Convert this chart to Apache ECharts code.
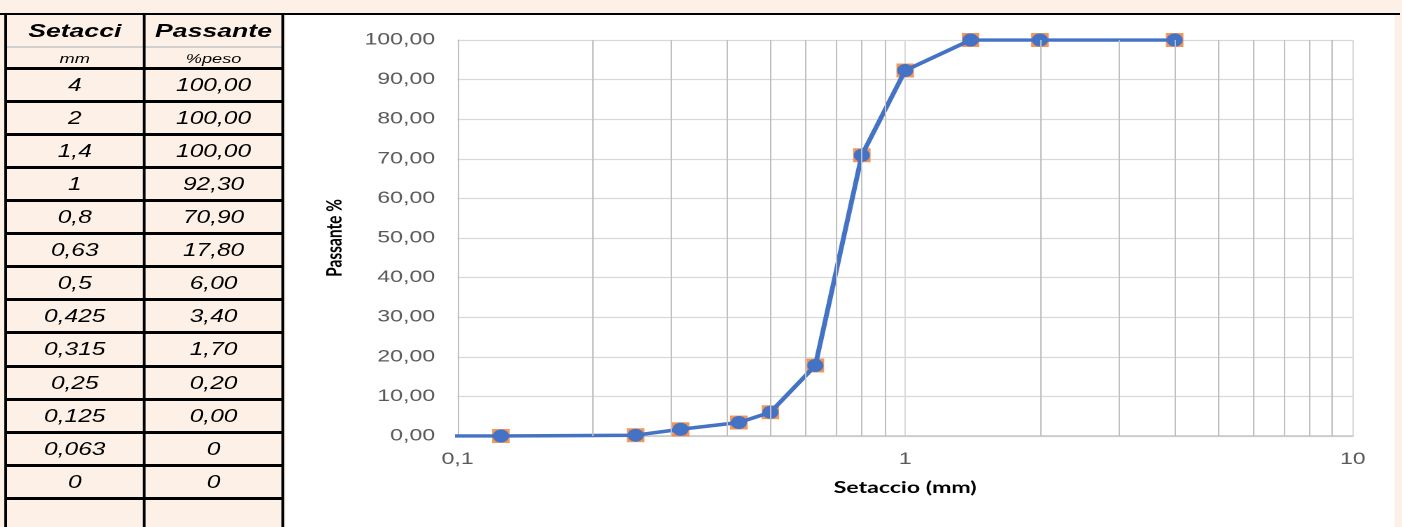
<!DOCTYPE html>
<html><head><meta charset="utf-8">
<script src="https://cdn.jsdelivr.net/npm/echarts@6/dist/echarts.min.js"></script>
<style>
html,body{margin:0;padding:0;width:1402px;height:527px;overflow:hidden;background:#fdf1e7;}
#stage{position:absolute;left:0;top:0;width:1001.43px;height:527px;transform:scaleX(1.4);transform-origin:0 0;}
#chart{position:absolute;left:203.6px;top:15px;width:792.8px;height:512px;background:#fff;}
.ln{position:absolute;}
.cell{position:absolute;text-align:center;font-family:"Liberation Sans",Arial,sans-serif;font-style:italic;color:#000;white-space:nowrap;}
</style></head>
<body>
<div id="stage">
  <div id="chart"></div>
  <div id="table"></div>
</div>
<script>
// ---- data ----
const tableHeader = ['Setacci', 'Passante'];
const tableUnits = ['mm', '%peso'];
const sieveLabels = ['4', '2', '1,4', '1', '0,8', '0,63', '0,5', '0,425', '0,315', '0,25', '0,125', '0,063', '0'];
const passingLabels = ['100,00', '100,00', '100,00', '92,30', '70,90', '17,80', '6,00', '3,40', '1,70', '0,20', '0,00', '0', '0'];
const sieveMm = [4, 2, 1.4, 1, 0.8, 0.63, 0.5, 0.425, 0.315, 0.25, 0.125, 0.063, 0];
const passingPct = [100, 100, 100, 92.3, 70.9, 17.8, 6.0, 3.4, 1.7, 0.2, 0, 0, 0];
const xTicks = [0.1, 1, 10];
const xTickLabels = ['0,1', '1', '10'];
const minorX = [0.2, 0.3, 0.4, 0.5, 0.6, 0.7, 0.8, 0.9, 2, 3, 4, 5, 6, 7, 8, 9];
const xTitle = 'Setaccio (mm)';
const yTitle = 'Passante %';

// ---- table (HTML) ----
const stage = document.getElementById('stage');
function box(cls, l, t, w, h, css, txt) {
  const d = document.createElement('div');
  d.className = cls;
  d.style.cssText = `left:${l}px;top:${t}px;width:${w}px;height:${h}px;` + (css || '');
  if (txt !== undefined) d.textContent = txt;
  stage.appendChild(d);
  return d;
}
const c1 = [4.7, 97.4], c2 = [103.7, 97.7];
// top black line
box('ln', 0, 12.6, 1000, 2.6, 'background:#000;');
// header
box('cell', c1[0], 15, c1[1], 31, 'line-height:31px;font-size:19px;font-weight:bold;', tableHeader[0]);
box('cell', c2[0], 15, c2[1], 31, 'line-height:31px;font-size:19px;font-weight:bold;', tableHeader[1]);
box('ln', c1[0], 46, 197, 1.5, 'background:#d0d0d0;');
box('cell', c1[0], 47.5, c1[1], 20, 'line-height:21px;font-size:13px;', tableUnits[0]);
box('cell', c2[0], 47.5, c2[1], 20, 'line-height:21px;font-size:13px;', tableUnits[1]);
const pitch = 33.08;
for (let i = 0; i <= sieveLabels.length; i++) {
  box('ln', c1[0], 66.8 + i * pitch, 197, 3, 'background:#000;');
}
sieveLabels.forEach((s, i) => {
  const top = 69.8 + i * pitch;
  box('cell', c1[0], top, c1[1], 30, 'line-height:31px;font-size:17.5px;', s);
  box('cell', c2[0], top, c2[1], 30, 'line-height:31px;font-size:17.5px;', passingLabels[i]);
});
// vertical borders
box('ln', 2.9, 13, 1.8, 514, 'background:#000;');
box('ln', 102.1, 13, 1.6, 514, 'background:#000;');
box('ln', 201.4, 13, 2.1, 514, 'background:#000;');

// ---- chart ----
const pts = sieveMm.map((x, i) => [x, passingPct[i]]).filter(p => p[0] > 0);
const chart = echarts.init(document.getElementById('chart'), null, {renderer: 'canvas', devicePixelRatio: 2});
chart.setOption({
  animation: false,
  grid: {left: 122.8, right: 30.7, top: 25, bottom: 91},
  xAxis: {
    type: 'log', logBase: 10, min: 0.1, max: 10,
    name: xTitle, nameLocation: 'middle', nameGap: 43,
    nameTextStyle: {fontFamily: 'Lato', fontWeight: 'bold', fontSize: 16.5, color: '#000'},
    axisLine: {show: true, onZero: false, lineStyle: {color: '#c6c6c6', width: 1.5}},
    axisTick: {show: false},
    axisLabel: {
      margin: 15, color: '#595959', fontFamily: 'Liberation Sans', fontSize: 16.5,
      formatter: v => {
        const i = xTicks.findIndex(t => Math.abs(Math.log10(t) - Math.log10(v)) < 1e-6);
        return i >= 0 ? xTickLabels[i] : '';
      }
    },
    splitLine: {show: true, lineStyle: {color: '#dadada', width: 1}}
  },
  yAxis: {
    type: 'value', min: 0, max: 100, interval: 10,
    name: yTitle, nameLocation: 'middle', nameGap: 80,
    nameTextStyle: {fontFamily: 'Lato', fontWeight: 'bold', fontSize: 15.5, color: '#000'},
    axisLine: {show: true, lineStyle: {color: '#bfbfbf', width: 1}},
    axisTick: {show: false},
    axisLabel: {margin: 16, color: '#595959', fontFamily: 'Liberation Sans', fontSize: 16.5,
      formatter: v => v.toFixed(2).replace('.', ',')},
    splitLine: {show: true, lineStyle: {color: '#d9d9d9', width: 1.3}}
  },
  series: [
    {
      type: 'line', data: pts, symbol: 'none', silent: true, z: 1,
      lineStyle: {opacity: 0},
      markLine: {
        silent: true, symbol: ['none', 'none'], label: {show: false}, animation: false,
        lineStyle: {color: '#bfbfbf', type: 'solid', width: 1},
        emphasis: {disabled: true},
        data: minorX.map(v => ({xAxis: v}))
      }
    },
    {
      type: 'scatter', data: pts, symbol: 'rect', symbolSize: [12.5, 14], z: 2, clip: true,
      itemStyle: {color: '#ed7d31'}
    },
    {
      type: 'line', data: pts, symbol: 'circle', symbolSize: [11.5, 13], showSymbol: true, z: 3, clip: true,
      lineStyle: {color: '#4472c4', width: 3.5},
      itemStyle: {color: '#4472c4', borderWidth: 0}
    }
  ]
});
</script>
</body></html>
